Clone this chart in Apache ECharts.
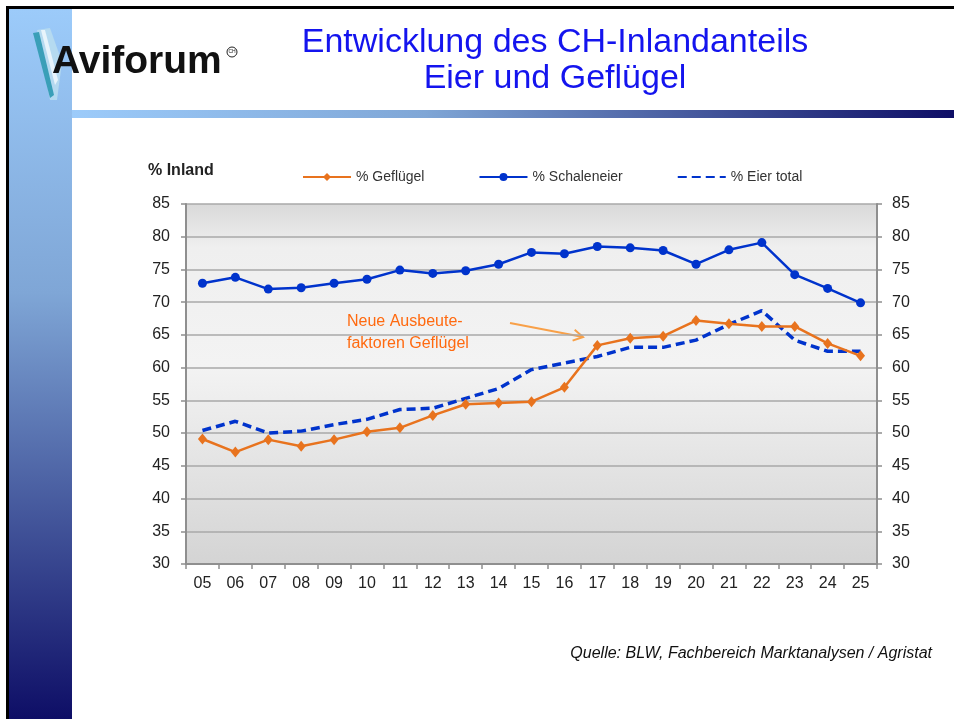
<!DOCTYPE html>
<html>
<head>
<meta charset="utf-8">
<title>Entwicklung des CH-Inlandanteils</title>
<script src="https://cdn.jsdelivr.net/npm/echarts@6/dist/echarts.min.js"></script>
<style>
html, body { margin: 0; padding: 0; background: #fff; }
#chart { width: 954px; height: 719px; }
</style>
</head>
<body>
<div id="chart"></div>
<script>
// Jahre (20xx) und Inlandanteile in %
const years = ['05','06','07','08','09','10','11','12','13','14','15','16','17','18','19','20','21','22','23','24','25'];
const gefluegel = [49.1, 47.1, 49.0, 48.0, 49.0, 50.2, 50.8, 52.7, 54.4, 54.6, 54.8, 57.0, 63.4, 64.5, 64.8, 67.2, 66.7, 66.3, 66.3, 63.7, 61.8];
const schaleneier = [72.9, 73.8, 72.0, 72.2, 72.9, 73.5, 74.9, 74.4, 74.8, 75.8, 77.6, 77.4, 78.5, 78.3, 77.9, 75.8, 78.0, 79.1, 74.2, 72.1, 69.9];
const eierTotal = [50.4, 51.8, 50.0, 50.3, 51.3, 52.1, 53.6, 53.8, 55.3, 56.8, 59.7, 60.7, 61.7, 63.1, 63.1, 64.2, 66.6, 68.7, 64.2, 62.5, 62.5];
const yMin = 30, yMax = 85, yStep = 5;

const sans = "'Liberation Sans', Arial, sans-serif";
const orange = '#E8731E';
const blue = '#0033CC';

const chart = echarts.init(document.getElementById('chart'));

const yAxisBase = {
    type: 'value',
    min: yMin,
    max: yMax,
    interval: yStep,
    axisLine: {show: true, lineStyle: {color: '#8f8f8f', width: 2}},
    axisTick: {show: true, length: 5, lineStyle: {color: '#8f8f8f', width: 1.5}},
    axisLabel: {fontSize: 16, color: '#222', fontFamily: sans}
};

chart.setOption({
    animation: false,
    backgroundColor: '#fff',
    grid: {
        left: 186, right: 77, top: 204, bottom: 155,
        show: true,
        borderWidth: 0,
        backgroundColor: new echarts.graphic.LinearGradient(0, 0, 0, 1, [
            {offset: 0, color: '#d9d9d9'},
            {offset: 0.12, color: '#efefef'},
            {offset: 0.45, color: '#f3f3f3'},
            {offset: 1, color: '#d4d4d4'}
        ])
    },
    legend: {
        left: 297, top: 165,
        itemWidth: 48, itemHeight: 10, itemGap: 54,
        textStyle: {fontSize: 14, color: '#333', fontFamily: sans},
        data: [
            '% Geflügel',
            '% Schaleneier',
            {name: '% Eier total', itemStyle: {opacity: 0}}
        ]
    },
    xAxis: {
        type: 'category',
        data: years,
        boundaryGap: true,
        axisLine: {lineStyle: {color: '#8f8f8f', width: 2}},
        axisTick: {show: true, length: 5, lineStyle: {color: '#8f8f8f', width: 1.5}},
        axisLabel: {fontSize: 16, color: '#222', fontFamily: sans, margin: 12}
    },
    yAxis: [
        {
            ...yAxisBase,
            position: 'left',
            axisLabel: {...yAxisBase.axisLabel, margin: 16},
            splitLine: {show: true, lineStyle: {color: '#a8a8a8', width: 1.5}}
        },
        {
            ...yAxisBase,
            position: 'right',
            axisLabel: {...yAxisBase.axisLabel, margin: 15},
            splitLine: {show: false}
        }
    ],
    series: [
        {
            name: '% Eier total',
            type: 'line',
            data: eierTotal,
            symbol: 'none',
            z: 2,
            lineStyle: {color: blue, width: 3.5, type: [9, 5]},
            itemStyle: {color: blue}
        },
        {
            name: '% Geflügel',
            type: 'line',
            data: gefluegel,
            symbol: 'diamond',
            symbolSize: [9, 11],
            z: 3,
            lineStyle: {color: orange, width: 2.5},
            itemStyle: {color: orange}
        },
        {
            name: '% Schaleneier',
            type: 'line',
            data: schaleneier,
            symbol: 'circle',
            symbolSize: 9,
            z: 3,
            lineStyle: {color: blue, width: 2.5},
            itemStyle: {color: blue}
        }
    ],
    graphic: [
        // Rahmen und Seitenleiste der Folie
        {type: 'rect', shape: {x: 6, y: 6, width: 948, height: 3}, style: {fill: '#000'}},
        {type: 'rect', shape: {x: 6, y: 6, width: 3, height: 713}, style: {fill: '#000'}},
        {
            type: 'rect', shape: {x: 9, y: 9, width: 63, height: 710},
            style: {fill: new echarts.graphic.LinearGradient(0, 0, 0, 1, [
                {offset: 0, color: '#9ccbfa'},
                {offset: 0.4, color: '#7fa6d6'},
                {offset: 1, color: '#0e0e66'}
            ])}
        },
        {
            type: 'rect', shape: {x: 72, y: 110, width: 882, height: 8},
            style: {fill: new echarts.graphic.LinearGradient(0, 0, 1, 0, [
                {offset: 0, color: '#9ccbfa'},
                {offset: 0.4, color: '#7fa6d6'},
                {offset: 1, color: '#0e0e66'}
            ])}
        },
        // Logo
        {type: 'polygon', shape: {points: [[37, 30], [50, 28], [62, 62], [57, 100], [50, 100]]}, style: {fill: '#b8dcf0', opacity: 0.9}},
        {type: 'polygon', shape: {points: [[33, 33], [39, 32], [54, 95], [50, 98]]}, style: {fill: '#3a9fb8'}},
        {type: 'polygon', shape: {points: [[41, 30], [45, 30], [58, 80], [55, 85]]}, style: {fill: '#e8f4fb'}},
        {
            type: 'text', x: 52, y: 62,
            style: {text: 'Aviforum', fontSize: 39, fontWeight: 'bold', fontFamily: sans, fill: '#111', align: 'left', verticalAlign: 'middle'}
        },
        {type: 'circle', shape: {cx: 232, cy: 52, r: 5}, style: {fill: 'none', stroke: '#222', lineWidth: 1}},
        {type: 'text', x: 232, y: 52, style: {text: 'CH', fontSize: 5, fontFamily: sans, fill: '#222', align: 'center', verticalAlign: 'middle'}},
        // Titel
        {
            type: 'text', x: 555, y: 43,
            style: {text: 'Entwicklung des CH-Inlandanteils', fontSize: 34, fontFamily: sans, fill: '#1414ee', align: 'center', verticalAlign: 'middle'}
        },
        {
            type: 'text', x: 555, y: 79,
            style: {text: 'Eier und Geflügel', fontSize: 34, fontFamily: sans, fill: '#1414ee', align: 'center', verticalAlign: 'middle'}
        },
        // Achsentitel
        {
            type: 'text', x: 148, y: 171,
            style: {text: '% Inland', fontSize: 16, fontWeight: 'bold', fontFamily: sans, fill: '#222', align: 'left', verticalAlign: 'middle'}
        },
        // Anmerkung
        {
            type: 'text', x: 347, y: 333,
            style: {text: 'Neue Ausbeute-\nfaktoren Geflügel', fontSize: 16, lineHeight: 22, fontFamily: sans, fill: '#ff6a10', align: 'left', verticalAlign: 'middle'}
        },
        {type: 'line', shape: {x1: 510, y1: 323, x2: 583, y2: 337}, style: {stroke: '#f8a048', lineWidth: 2}},
        {type: 'polyline', shape: {points: [[574.7, 329.8], [583, 337], [572.6, 340.6]]}, style: {stroke: '#f8a048', lineWidth: 2, fill: 'none'}},
        // Quelle
        {
            type: 'text', x: 932, y: 654,
            style: {text: 'Quelle: BLW, Fachbereich Marktanalysen / Agristat', fontSize: 16, fontStyle: 'italic', fontFamily: sans, fill: '#111', align: 'right', verticalAlign: 'middle'}
        }
    ]
});
</script>
</body>
</html>
